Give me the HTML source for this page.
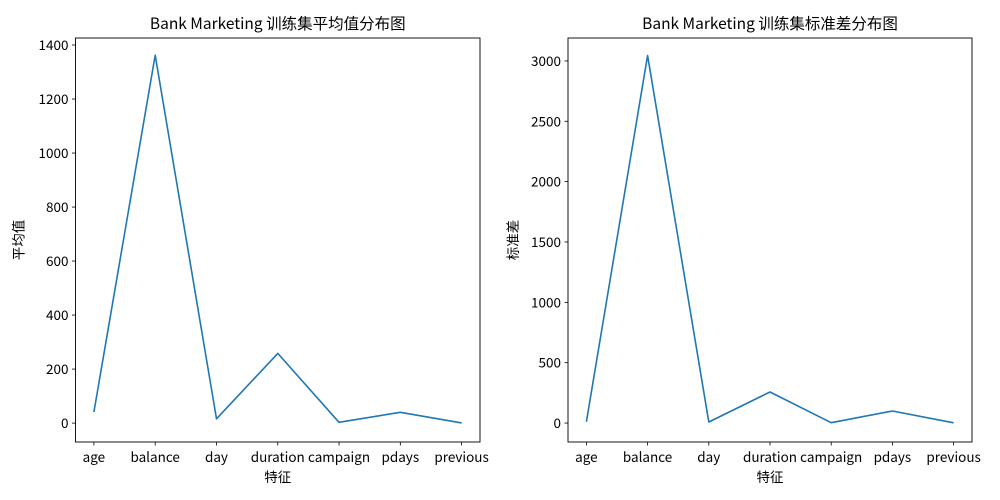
<!DOCTYPE html>
<html><head><meta charset="utf-8"><style>
body{margin:0;background:#fff}
svg{display:block;font-family:"Noto Sans CJK SC","Liberation Sans",sans-serif}
</style></head><body>
<svg id="c" width="1000" height="500" xmlns="http://www.w3.org/2000/svg"></svg>
<script>
const categories=["age","balance","day","duration","campaign","pdays","previous"];
const meanValues=[41,1362,16,258,3,40,0.6];
const stdValues=[10.6,3045,8.3,257,3.1,100,2.3];
const meanTicks=[0,200,400,600,800,1000,1200,1400];
const stdTicks=[0,500,1000,1500,2000,2500,3000];
const svg=document.getElementById('c');
const NS='http://www.w3.org/2000/svg';
function mk(tag,attrs,parent,text){const e=document.createElementNS(NS,tag);for(const k in attrs)e.setAttribute(k,attrs[k]);if(text!==undefined)e.textContent=text;parent.appendChild(e);return e;}
function panel(x0,x1,y0,y1,vals,ticks,ymin,ymax,title,ylab,pname){
  const g=mk('g',{},svg);
  
  
  const n=categories.length;
  const xs=i=>x0+(i+0.3)/(n-1+0.6)*(x1-x0);
  const ys=v=>y1-(v-ymin)/(ymax-ymin)*(y1-y0);
  ticks.forEach(t=>{const y=ys(t);
    const l=mk('line',{x1:x0-3.5,x2:x0,y1:y,y2:y,stroke:'#000','stroke-width':0.8},g);
    
    
    const tx=mk('text',{x:x0-7,y:y+5,'text-anchor':'end','font-size':13.5},g,String(t));
    
    
  });
  categories.forEach((c,i)=>{const x=xs(i);
    const l=mk('line',{x1:x,x2:x,y1:y1,y2:y1+3.5,stroke:'#000','stroke-width':0.8},g);
    
    
    const tx=mk('text',{x:x,y:y1+20,'text-anchor':'middle','font-size':13.5},g,c);
    
    
  });
  const pts=vals.map((v,i)=>xs(i).toFixed(1)+','+ys(v).toFixed(1)).join(' ');
  const pl=mk('polyline',{points:pts,fill:'none',stroke:'#1f77b4','stroke-width':1.6,'stroke-linejoin':'round'},g);
  
  
  const r=mk('rect',{x:x0,y:y0,width:x1-x0,height:y1-y0,fill:'none',stroke:'#000','stroke-width':0.9},g);
  
  
  const t=mk('text',{x:(x0+x1)/2,y:y0-9,'text-anchor':'middle','font-size':15.5},g,title);
  
  
  const xl=mk('text',{x:(x0+x1)/2,y:y1+40,'text-anchor':'middle','font-size':13.5},g,'特征');
  
  
  const yc=(y0+y1)/2, yx=x0-ylabOff;
  const yl=mk('text',{x:yx,y:yc,'text-anchor':'middle','font-size':13.5,transform:`rotate(-90 ${yx} ${yc})`},g,ylab);
  
  
}
let ylabOff=52;
panel(75.5,480,38,442,meanValues,meanTicks,-70,1426,'Bank Marketing 训练集平均值分布图','平均值','mean-panel');
ylabOff=50;
panel(568,972,38,442,stdValues,stdTicks,-157,3190,'Bank Marketing 训练集标准差分布图','标准差','std-panel');
</script>
</body></html>
